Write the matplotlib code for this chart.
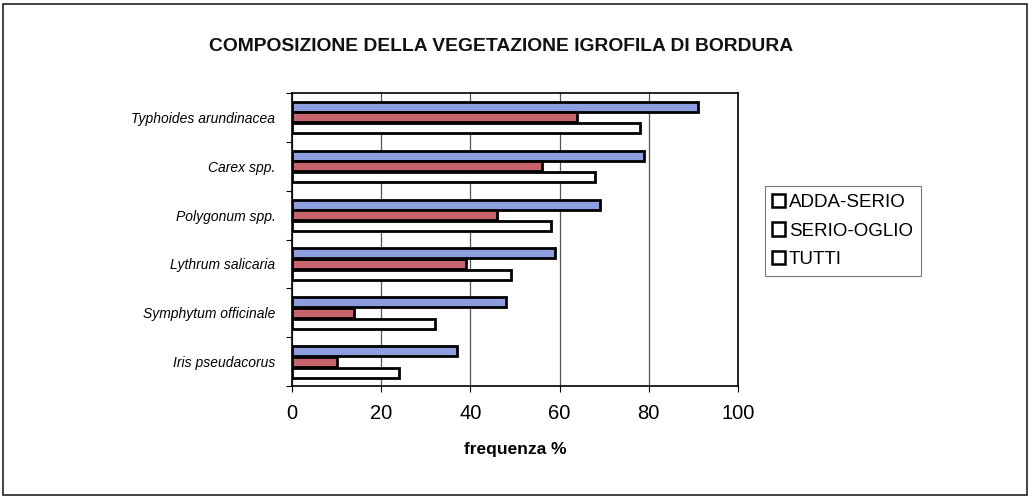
import matplotlib
matplotlib.use("Agg")
import matplotlib.pyplot as plt
import numpy as np
from matplotlib.patches import Patch, Rectangle

plt.rcParams['font.family'] = ['Liberation Sans', 'DejaVu Sans']

categories = ["Typhoides arundinacea", "Carex spp.", "Polygonum spp.",
              "Lythrum salicaria", "Symphytum officinale", "Iris pseudacorus"]
series_names = ["ADDA-SERIO", "SERIO-OGLIO", "TUTTI"]
adda_serio = [91, 79, 69, 59, 48, 37]
serio_oglio = [64, 56, 46, 39, 14, 10]
tutti = [78, 68, 58, 49, 32, 24]
x_ticks = [0, 20, 40, 60, 80, 100]

colors = ["#8c9de0", "#c8646e", "#ffffff"]

fig = plt.figure(figsize=(10.32, 4.99), dpi=100)
fig.patches.append(Rectangle((0.003, 0.008), 0.992, 0.984, transform=fig.transFigure,
                             fill=False, edgecolor="#222222", linewidth=1.2))
ax = fig.add_axes([0.283, 0.2265, 0.432, 0.587])

n = len(categories)
centers = np.arange(n)[::-1] + 0.5  # top group first
h = 0.205
data = [adda_serio, serio_oglio, tutti]
offsets = [-h - 0.01, 0.0, h + 0.02]
for vals, col, off, name in zip(data, colors, offsets, series_names):
    ax.barh(centers - off, vals, height=h, color=col, edgecolor="black",
            linewidth=2.0, label=name, zorder=3)

ax.set_xlim(0, 100)
ax.set_ylim(0, n)
ax.set_xticks(x_ticks)
ax.set_xticklabels([str(t) for t in x_ticks], fontsize=14.5)
ax.set_yticks(np.arange(n + 1))
ax.set_yticklabels([])
ax.set_yticks(centers, minor=True)
ax.set_yticklabels(categories, minor=True, fontsize=10, style='italic')
ax.tick_params(axis='y', which='minor', length=0, pad=12)
ax.tick_params(axis='y', which='major', length=4, direction='out')
ax.tick_params(axis='x', length=4, direction='out', pad=9)
ax.xaxis.grid(True, color="#555555", linewidth=0.9, zorder=0)
for s in ax.spines.values():
    s.set_linewidth(1.2)
ax.set_xlabel("frequenza %", fontsize=12.5, fontweight='bold', labelpad=14)

fig.text(0.4855, 0.906, "COMPOSIZIONE DELLA VEGETAZIONE IGROFILA DI BORDURA",
         ha='center', va='center', fontsize=13.9, fontweight='bold', color="#111111")

handles = [Patch(facecolor="white", edgecolor="black", linewidth=1.8) for _ in series_names]
leg = fig.legend(handles, series_names, loc='upper left', bbox_to_anchor=(0.741, 0.627),
                 fontsize=13.5, frameon=True, fancybox=False, edgecolor="#555555",
                 handlelength=0.7, handleheight=0.7, handletextpad=0.2,
                 borderpad=0.4, labelspacing=0.62, borderaxespad=0.0)
leg.get_frame().set_linewidth(0.8)

fig.savefig("out.png", dpi=100)
